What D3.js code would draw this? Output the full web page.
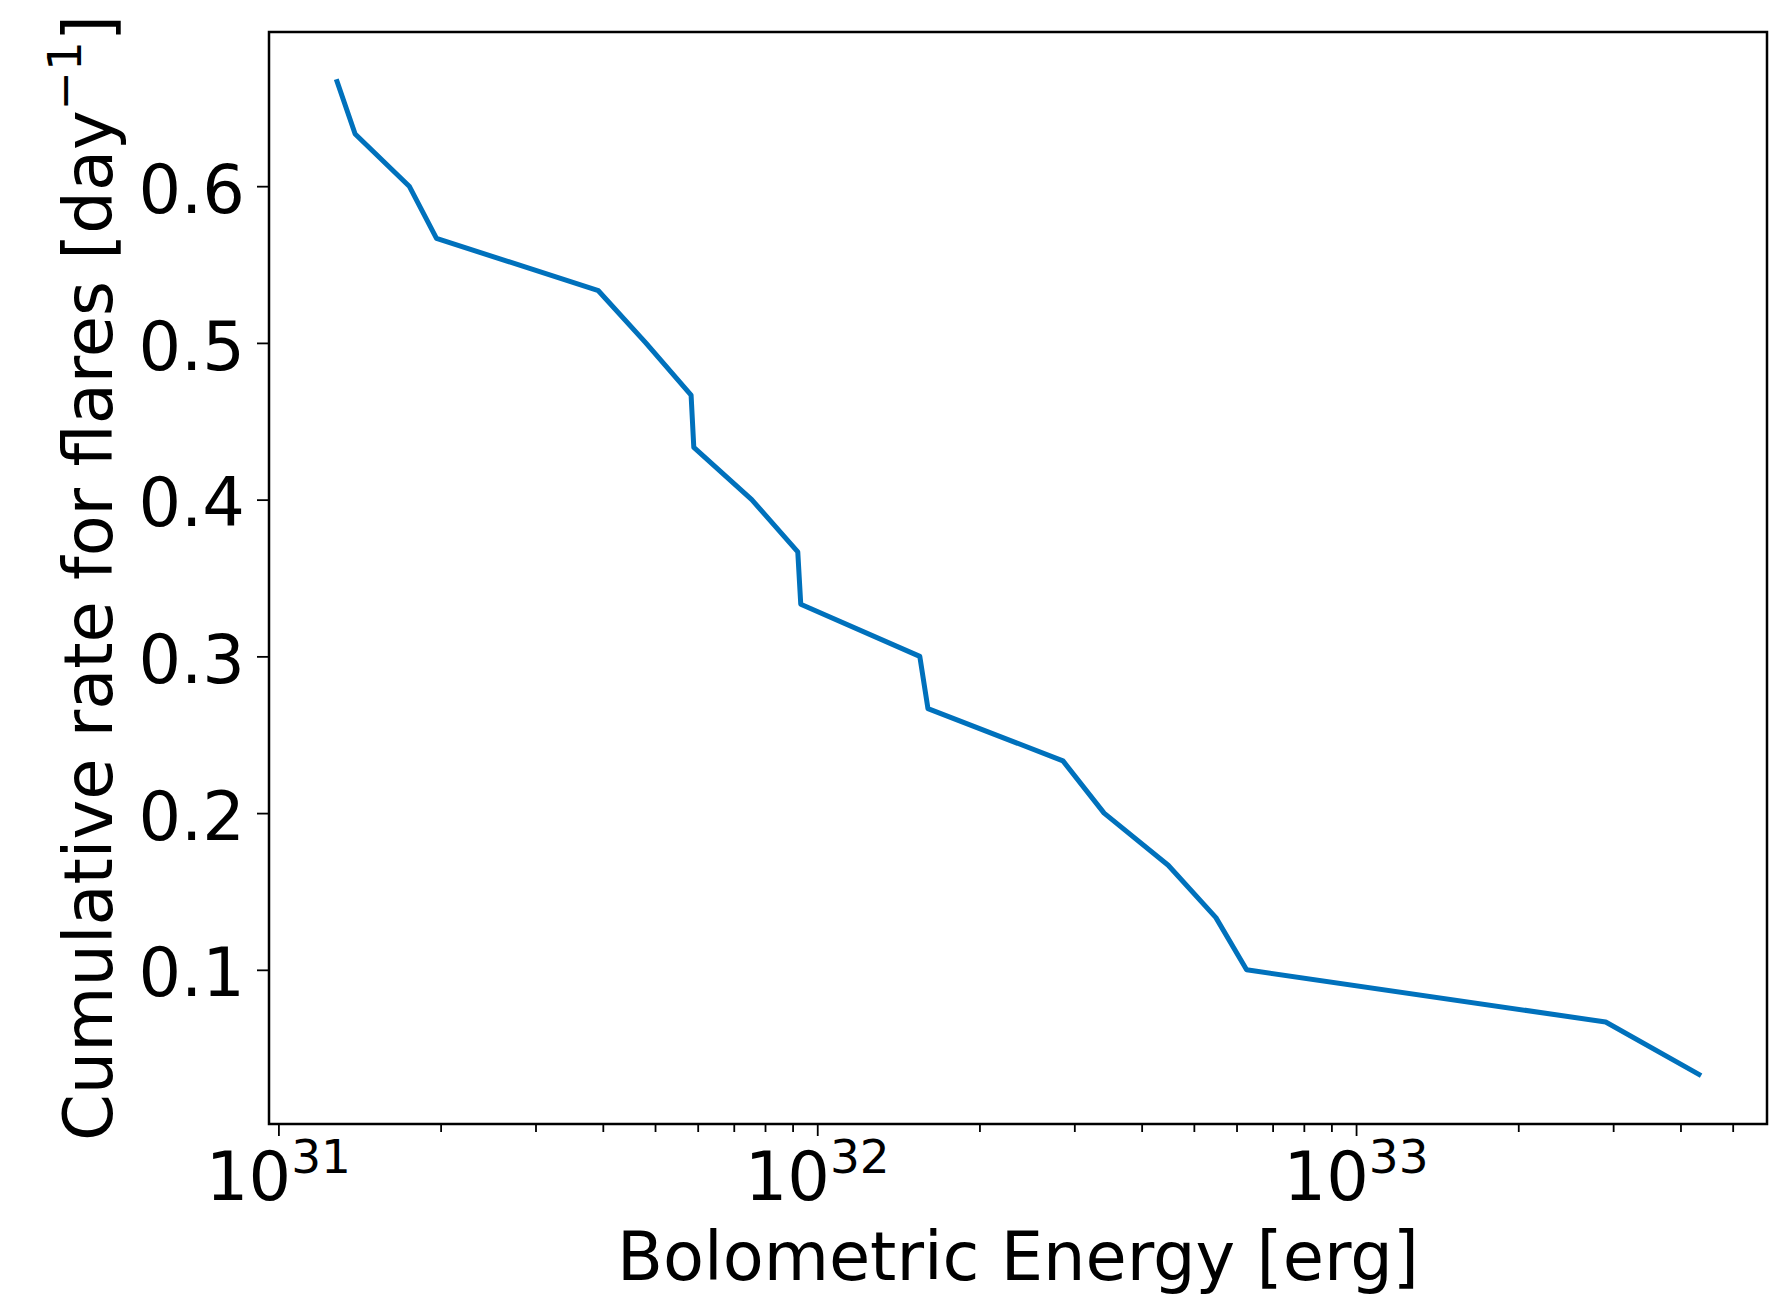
<!DOCTYPE html>
<html>
<head>
<meta charset="utf-8">
<script src="https://cdn.jsdelivr.net/npm/d3@7"></script>
<style>
  body { margin: 0; background: #fff; }
  svg { display: block; }
  text { font-family: "DejaVu Sans", sans-serif; fill: #000; }
</style>
</head>
<body>
<script>
// Flare energies (erg), sorted ascending
const energies = [
  1.285e31, 1.388e31, 1.749e31, 1.965e31, 3.925e31,
  4.807e31, 5.833e31, 5.901e31, 7.558e31, 9.202e31,
  9.32e31, 1.55e32, 1.605e32, 2.858e32, 3.407e32,
  4.481e32, 5.494e32, 6.264e32, 2.906e33, 4.328e33
];
// Cumulative flare rate (per day) for flares at or above each energy
const rates = [
  0.6667, 0.6333, 0.6000, 0.5667, 0.5333,
  0.5000, 0.4667, 0.4333, 0.4000, 0.3667,
  0.3333, 0.3000, 0.2667, 0.2333, 0.2000,
  0.1667, 0.1333, 0.1000, 0.0667, 0.0333
];
const yTickValues = [0.1, 0.2, 0.3, 0.4, 0.5, 0.6];
const xTickExponents = [31, 32, 33];
const xLabel = "Bolometric Energy [erg]";
const yLabelMain = "Cumulative rate for flares [day";
const yLabelSup = "\u22121";
const yLabelEnd = "]";

const W = 1783, H = 1297;
const plot = { left: 269, right: 1767, top: 32, bottom: 1124 };
const lineColor = "#0071bc";
const fontSize = 67;
const supSize = 47;

const svg = d3.select("body").append("svg")
  .attr("width", W).attr("height", H)
  .style("background", "#fff");

// Autoscale with 5% padding (in log space for x)
const lx = d3.extent(energies).map(Math.log10);
const px = 0.05 * (lx[1] - lx[0]);
const x = d3.scaleLog()
  .domain([Math.pow(10, lx[0] - px), Math.pow(10, lx[1] + px)])
  .range([plot.left, plot.right]);

const ly = d3.extent(rates);
const py = 0.05 * (ly[1] - ly[0]);
const y = d3.scaleLinear()
  .domain([ly[0] - py, ly[1] + py])
  .range([plot.bottom, plot.top]);

// Minor ticks: 2..9 x 10^n inside the domain
const [d0, d1] = x.domain();
const minorTicks = [];
for (let e = Math.floor(Math.log10(d0)); e <= Math.ceil(Math.log10(d1)); e++) {
  for (let m = 2; m <= 9; m++) {
    const v = m * Math.pow(10, e);
    if (v >= d0 && v <= d1) minorTicks.push(v);
  }
}
const majorTicks = xTickExponents.map(e => Math.pow(10, e));

const gx = svg.append("g").attr("transform", `translate(0,${plot.bottom})`);
gx.append("g").call(d3.axisBottom(x).tickValues(minorTicks).tickSize(8).tickFormat(""));
gx.append("g").call(d3.axisBottom(x).tickValues(majorTicks).tickSize(12).tickFormat(""));
gx.selectAll(".domain").remove();
gx.selectAll(".tick line").attr("stroke", "#000").attr("stroke-width", 1.8);

// x tick labels as 10^n with superscript exponents
const xl = svg.append("g");
xTickExponents.forEach(e => {
  const t = xl.append("text")
    .attr("x", x(Math.pow(10, e)))
    .attr("y", 1200)
    .attr("text-anchor", "middle")
    .style("font-size", fontSize + "px");
  t.append("tspan").text("10");
  t.append("tspan").attr("dy", -27).style("font-size", supSize + "px").text(String(e));
});

// y axis
const gy = svg.append("g").attr("transform", `translate(${plot.left},0)`);
gy.call(d3.axisLeft(y).tickValues(yTickValues).tickSize(12).tickPadding(12)
  .tickFormat(d3.format(".1f")));
gy.selectAll(".domain").remove();
gy.selectAll(".tick line").attr("stroke", "#000").attr("stroke-width", 1.8);
gy.selectAll(".tick text")
  .attr("dy", "0.39em")
  .attr("fill", "#000")
  .style("font-family", "DejaVu Sans, sans-serif")
  .style("font-size", fontSize + "px");

// Data line
const line = d3.line().x((d, i) => x(energies[i])).y(d => y(d));
svg.append("path")
  .datum(rates)
  .attr("d", line)
  .attr("fill", "none")
  .attr("stroke", lineColor)
  .attr("stroke-width", 5)
  .attr("stroke-linejoin", "round")
  .attr("stroke-linecap", "square");

// Frame
svg.append("rect")
  .attr("x", plot.left).attr("y", plot.top)
  .attr("width", plot.right - plot.left)
  .attr("height", plot.bottom - plot.top)
  .attr("fill", "none").attr("stroke", "#000").attr("stroke-width", 2.5);

// Axis labels
svg.append("text")
  .attr("x", (plot.left + plot.right) / 2)
  .attr("y", 1280)
  .attr("text-anchor", "middle")
  .style("font-size", fontSize + "px")
  .text(xLabel);

const yl = svg.append("text")
  .attr("transform", `translate(112,${(plot.top + plot.bottom) / 2}) rotate(-90)`)
  .attr("text-anchor", "middle")
  .style("font-size", fontSize + "px");
yl.append("tspan").text(yLabelMain);
yl.append("tspan").attr("dy", -31).style("font-size", supSize + "px").text(yLabelSup);
yl.append("tspan").attr("dy", 31).text(yLabelEnd);
</script>
</body>
</html>
